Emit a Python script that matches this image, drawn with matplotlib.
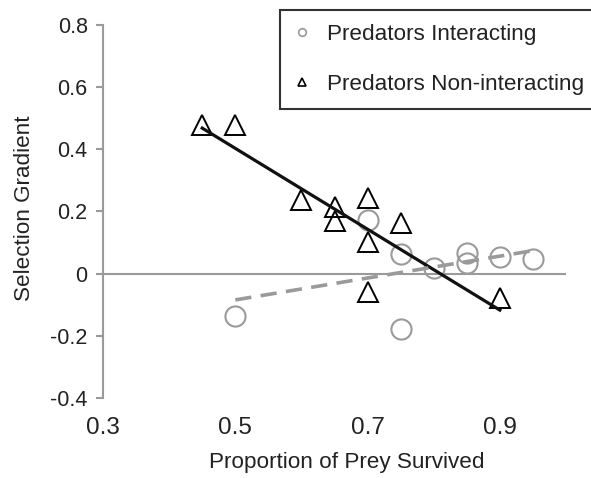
import numpy as np
import matplotlib
matplotlib.use("Agg")
import matplotlib.pyplot as plt
from matplotlib.lines import Line2D

plt.rcParams['font.family'] = ['Liberation Sans', 'DejaVu Sans']

# Predators interacting (grey circles)
inter_x = [0.50, 0.70, 0.75, 0.75, 0.80, 0.85, 0.85, 0.90, 0.95]
inter_y = [-0.137, 0.173, 0.063, -0.179, 0.017, 0.067, 0.033, 0.055, 0.046]

# Predators non-interacting (black triangles)
non_x = [0.45, 0.50, 0.60, 0.65, 0.65, 0.70, 0.70, 0.70, 0.75, 0.90]
non_y = [0.478, 0.478, 0.237, 0.215, 0.170, 0.242, 0.103, -0.058, 0.162, -0.077]

x_ticks = [0.3, 0.5, 0.7, 0.9]
y_ticks = [-0.4, -0.2, 0, 0.2, 0.4, 0.6, 0.8]
y_labels = ['-0.4', '-0.2', '0', '0.2', '0.4', '0.6', '0.8']

TXT = '#222222'
GREY = '#9a9a9a'

fig = plt.figure(figsize=(5.91, 4.78), dpi=100)
ax = fig.add_axes([0.1743, 0.1674, 0.7834, 0.7803])

ax.axhline(0, color=GREY, lw=1.5, zorder=1)

ax.plot(inter_x, inter_y, 'o', ms=14.5, mfc='none', mec=GREY, mew=1.5, zorder=3)
ax.plot(non_x, non_y, '^', ms=15, mfc='none', mec='black', mew=1.4, zorder=4)

# linear trendlines
p1 = np.polyfit(non_x, non_y, 1)
xs1 = np.array([min(non_x), max(non_x)])
ax.plot(xs1, np.polyval(p1, xs1), color='#111111', lw=2.3, zorder=5)

p2 = np.polyfit(inter_x, inter_y, 1)
xs2 = np.array([min(inter_x), max(inter_x)])
ax.plot(xs2, np.polyval(p2, xs2), color=GREY, lw=2.6, dashes=(4.5, 2.6), zorder=5)

ax.set_xlim(0.3, 1.0)
ax.set_ylim(-0.4, 0.8)
ax.set_xticks(x_ticks)
ax.set_xticklabels(['%.1f' % v for v in x_ticks], fontsize=17.5, color=TXT)
ax.set_yticks(y_ticks)
ax.set_yticklabels(y_labels, fontsize=15.5, color=TXT)
ax.tick_params(axis='x', length=0, pad=14)
ax.tick_params(axis='y', length=5, width=1.5, color=GREY, pad=6)

for s in ['top', 'right', 'bottom']:
    ax.spines[s].set_visible(False)
ax.spines['left'].set_color(GREY)
ax.spines['left'].set_linewidth(1.5)

ax.set_xlabel('Proportion of Prey Survived', fontsize=16.2, color=TXT, labelpad=9)
ax.xaxis.label.set_x(0.527)
ax.set_ylabel('Selection Gradient', fontsize=16.2, color=TXT, labelpad=11)
ax.yaxis.label.set_y(0.508)

handles = [
    Line2D([], [], ls='none', marker='o', ms=5.5, mfc='none', mec=GREY, mew=1.2),
    Line2D([], [], ls='none', marker='^', ms=5.5, mfc='none', mec='black', mew=1.2),
]
leg = fig.legend(handles, ['Predators Interacting', 'Predators Non-interacting'],
                 loc='upper left', bbox_to_anchor=(0.474, 0.979),
                 bbox_transform=fig.transFigure, borderaxespad=0,
                 fontsize=16.2, labelcolor=TXT, frameon=True, fancybox=False,
                 edgecolor='black', borderpad=0.61, labelspacing=1.31,
                 handlelength=0.73, handletextpad=0.74)
leg.get_frame().set_linewidth(1.5)

fig.savefig('out.png', dpi=100)
